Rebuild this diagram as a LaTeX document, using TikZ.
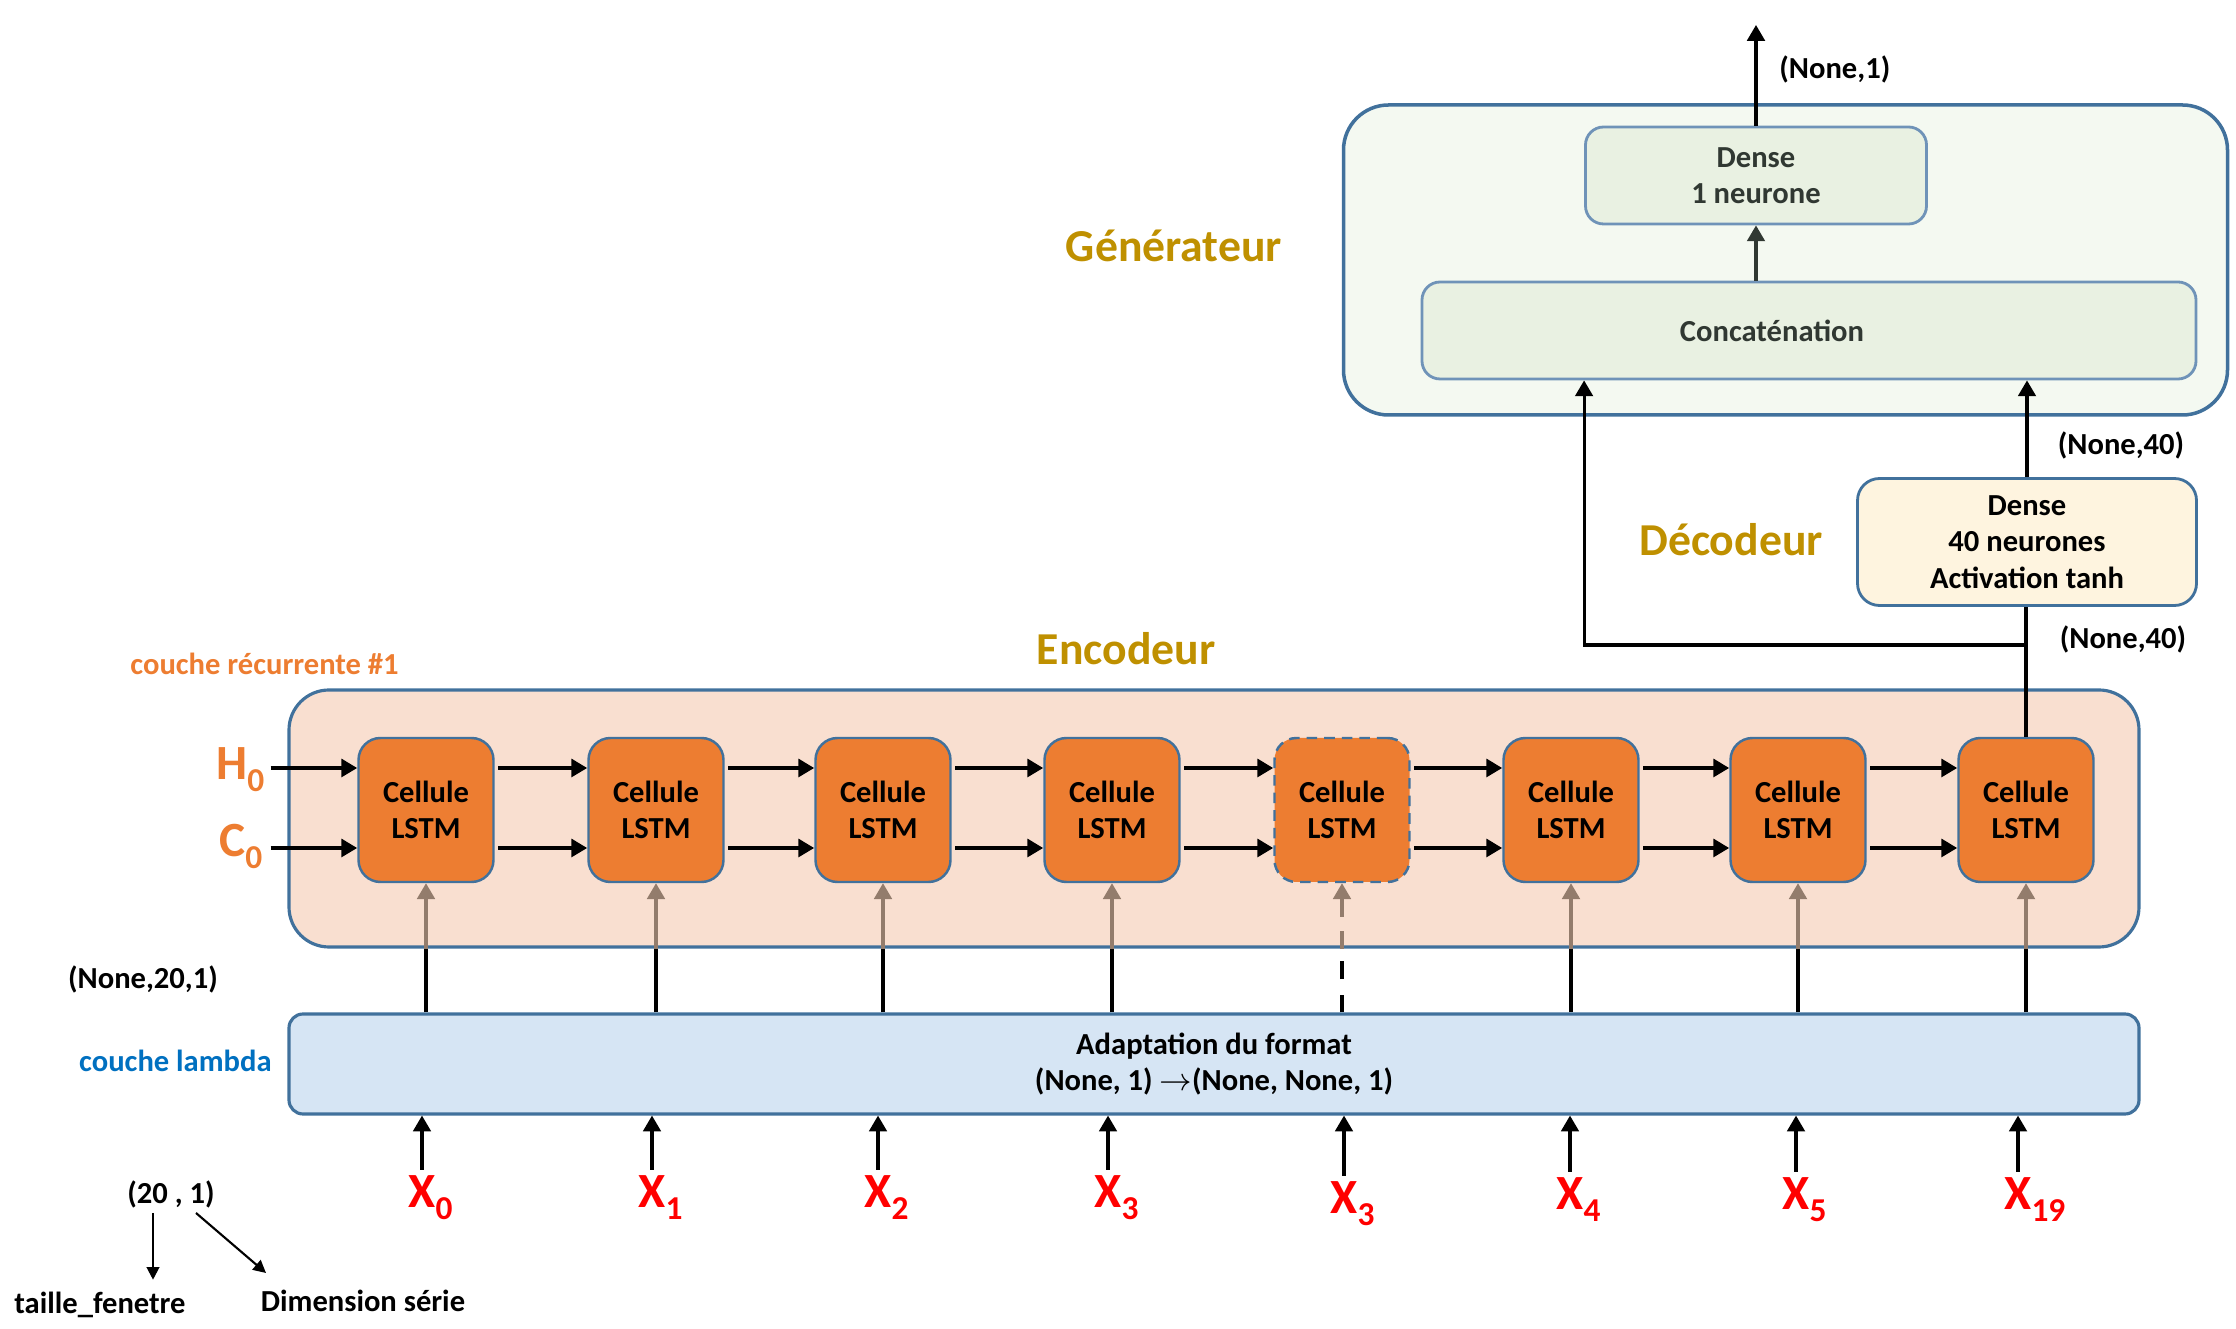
\documentclass[tikz,border=0pt]{standalone}
\usepackage{fontspec}
\setmainfont{Carlito}
\usepackage{xcolor}
\usepackage{tikz}
\usetikzlibrary{arrows.meta}
\usetikzlibrary{shapes}

\definecolor{boxblue}{HTML}{41719C}
\definecolor{paleblue}{HTML}{6F93B8}
\definecolor{gold}{HTML}{BF9000}
\definecolor{lstm}{HTML}{ED7D31}
\definecolor{encfill}{HTML}{F9DFD0}
\definecolor{lamfill}{HTML}{D6E5F4}
\definecolor{genfill}{HTML}{F4F9F1}
\definecolor{densefill}{HTML}{E9F1E2}
\definecolor{decfill}{HTML}{FEF4DF}
\definecolor{brownarr}{HTML}{937C6C}
\definecolor{lambdatxt}{HTML}{0070C0}
\definecolor{darkarr}{HTML}{303832}

\newcommand{\lowidx}[1]{\raisebox{-1.2mm}{\fontsize{9.5}{10}\selectfont #1}}

\tikzset{
  txt/.style={font=\bfseries\fontsize{8.7}{10.4}\selectfont, align=center},
  bigtitle/.style={font=\bfseries\fontsize{13}{15}\selectfont, text=gold},
  lstmcell/.style={draw=boxblue, fill=lstm, line width=0.7pt, rounded corners=0.22cm,
    minimum width=1.35cm, minimum height=1.44cm, txt},
  genlayer/.style={draw=paleblue, fill=densefill, line width=0.8pt, rounded corners=0.18cm,
    text=darkarr, txt},
  xlab/.style={font=\bfseries\fontsize{14}{16}\selectfont, text=red, anchor=north, inner sep=1.5pt},
  hclab/.style={font=\bfseries\fontsize{14}{16}\selectfont, text=lstm, inner sep=0pt, anchor=base east},
  hcarrow/.style={line width=1.1pt, ->, shorten <=1pt},
  feed/.style={line width=0.9pt},
  xarrow/.style={line width=0.9pt, ->},
  brownup/.style={brownarr, line width=0.9pt, ->},
  thinarrow/.style={line width=0.6pt, -{Triangle[length=3.6pt,width=3.6pt]}},
}

\begin{document}
\begin{tikzpicture}[>={Triangle[length=4.5pt,width=5pt]}]
\useasboundingbox (0,0) rectangle (22.36,-13.29);

\node[draw=boxblue, fill=genfill, line width=1pt, rounded corners=0.45cm,
    minimum width=8.84cm, minimum height=3.10cm] at (17.855,-2.60) (gen) {};
\node[genlayer, minimum width=3.41cm, minimum height=0.97cm] at (17.56,-1.755) (dense1) {Dense\\1 neurone};
\node[genlayer, minimum width=7.74cm, minimum height=0.97cm] at (18.09,-3.305) (concat) {Concaténation\hspace*{0.74cm}};
\node[draw=boxblue, fill=decfill, line width=0.8pt, rounded corners=0.22cm,
    minimum width=3.39cm, minimum height=1.27cm, txt] at (20.27,-5.42) (dec) {Dense\\40 neurones\\Activation tanh};

\node[draw=boxblue, fill=encfill, line width=0.9pt, rounded corners=0.4cm,
    minimum width=18.5cm, minimum height=2.57cm] at (12.14,-8.185) (enc) {};
\node[draw=boxblue, fill=lamfill, line width=0.9pt, rounded corners=0.14cm,
    minimum width=18.5cm, minimum height=1.0cm, txt] at (12.14,-10.64) (lam)
    {Adaptation du format\\(None, 1) $\rightarrow$(None, None, 1)};

\node[bigtitle] at (11.74,-2.46) (gentit) {Générateur};
\node[bigtitle] at (17.31,-5.40) (dectit) {Décodeur};
\node[bigtitle] at (11.26,-6.49) (enctit) {Encodeur};
\node[txt, text=lstm, anchor=west] at (1.18,-6.64) (rectit) {couche récurrente \#1};
\node[txt, text=lambdatxt, anchor=east] at (2.84,-10.61) (lamtit) {couche lambda};

\node[lstmcell] at (4.26,-8.10) (c1) {Cellule\\LSTM};
\node[lstmcell] at (6.56,-8.10) (c2) {Cellule\\LSTM};
\node[lstmcell] at (8.83,-8.10) (c3) {Cellule\\LSTM};
\node[lstmcell] at (11.12,-8.10) (c4) {Cellule\\LSTM};
\node[lstmcell, dash pattern=on 3pt off 2pt] at (13.42,-8.10) (c5) {Cellule\\LSTM};
\node[lstmcell] at (15.71,-8.10) (c6) {Cellule\\LSTM};
\node[lstmcell] at (17.98,-8.10) (c7) {Cellule\\LSTM};
\node[lstmcell] at (20.26,-8.10) (c8) {Cellule\\LSTM};

\node[hclab] at (2.65,-7.80) (h0lab) {H\lowidx{0}};
\node[hclab] at (2.63,-8.57) (c0lab) {C\lowidx{0}};
\coordinate (h0) at (2.67,-7.68);
\coordinate (c0) at (2.67,-8.48);

\draw[hcarrow] (h0) -- (h0 -| c1.west);
\draw[hcarrow] (c0) -- (c0 -| c1.west);
\draw[hcarrow] ([yshift=4.2mm]c1.east) -- ([yshift=4.2mm]c2.west);
\draw[hcarrow] ([yshift=-3.8mm]c1.east) -- ([yshift=-3.8mm]c2.west);
\draw[hcarrow] ([yshift=4.2mm]c2.east) -- ([yshift=4.2mm]c3.west);
\draw[hcarrow] ([yshift=-3.8mm]c2.east) -- ([yshift=-3.8mm]c3.west);
\draw[hcarrow] ([yshift=4.2mm]c3.east) -- ([yshift=4.2mm]c4.west);
\draw[hcarrow] ([yshift=-3.8mm]c3.east) -- ([yshift=-3.8mm]c4.west);
\draw[hcarrow] ([yshift=4.2mm]c4.east) -- ([yshift=4.2mm]c5.west);
\draw[hcarrow] ([yshift=-3.8mm]c4.east) -- ([yshift=-3.8mm]c5.west);
\draw[hcarrow] ([yshift=4.2mm]c5.east) -- ([yshift=4.2mm]c6.west);
\draw[hcarrow] ([yshift=-3.8mm]c5.east) -- ([yshift=-3.8mm]c6.west);
\draw[hcarrow] ([yshift=4.2mm]c6.east) -- ([yshift=4.2mm]c7.west);
\draw[hcarrow] ([yshift=-3.8mm]c6.east) -- ([yshift=-3.8mm]c7.west);
\draw[hcarrow] ([yshift=4.2mm]c7.east) -- ([yshift=4.2mm]c8.west);
\draw[hcarrow] ([yshift=-3.8mm]c7.east) -- ([yshift=-3.8mm]c8.west);

\draw[feed] (c1 |- lam.north) -- (c1 |- enc.south);
\draw[feed] (c2 |- lam.north) -- (c2 |- enc.south);
\draw[feed] (c3 |- lam.north) -- (c3 |- enc.south);
\draw[feed] (c4 |- lam.north) -- (c4 |- enc.south);
\draw[feed, dash pattern=on 5pt off 4.5pt] (c5 |- lam.north) -- (c5 |- enc.south);
\draw[feed] (c6 |- lam.north) -- (c6 |- enc.south);
\draw[feed] (c7 |- lam.north) -- (c7 |- enc.south);
\draw[feed] (c8 |- lam.north) -- (c8 |- enc.south);
\draw[brownup] (c1 |- enc.south) -- (c1.south);
\draw[brownup] (c2 |- enc.south) -- (c2.south);
\draw[brownup] (c3 |- enc.south) -- (c3.south);
\draw[brownup] (c4 |- enc.south) -- (c4.south);
\draw[brownup, dash pattern=on 5pt off 4pt] (c5 |- enc.south) -- (c5.south);
\draw[brownup] (c6 |- enc.south) -- (c6.south);
\draw[brownup] (c7 |- enc.south) -- (c7.south);
\draw[brownup] (c8 |- enc.south) -- (c8.south);

\node[xlab] at (4.22,-11.70) (x1) {X\rlap{\lowidx{0}}};
\node[xlab] at (6.52,-11.70) (x2) {X\rlap{\lowidx{1}}};
\node[xlab] at (8.78,-11.70) (x3) {X\rlap{\lowidx{2}}};
\node[xlab] at (11.08,-11.70) (x4) {X\rlap{\lowidx{3}}};
\node[xlab] at (13.44,-11.76) (x5) {X\rlap{\lowidx{3}}};
\node[xlab] at (15.70,-11.72) (x6) {X\rlap{\lowidx{4}}};
\node[xlab] at (17.96,-11.72) (x7) {X\rlap{\lowidx{5}}};
\node[xlab] at (20.18,-11.72) (x8) {X\rlap{\lowidx{19}}};
\draw[xarrow] (x1) -- (x1 |- lam.south);
\draw[xarrow] (x2) -- (x2 |- lam.south);
\draw[xarrow] (x3) -- (x3 |- lam.south);
\draw[xarrow] (x4) -- (x4 |- lam.south);
\draw[xarrow] (x5) -- (x5 |- lam.south);
\draw[xarrow] (x6) -- (x6 |- lam.south);
\draw[xarrow] (x7) -- (x7 |- lam.south);
\draw[xarrow] (x8) -- (x8 |- lam.south);

\coordinate (split) at (20.26,-6.45);
\coordinate (out) at (17.56,-0.25);
\draw[feed] (c8.north) -- (c8.north |- dec.south);
\draw[feed, ->] (split) -| (dense1.west |- concat.south);
\draw[feed, ->] (dec.north) -- (dec.north |- concat.south);
\draw[feed, darkarr, ->] (dense1 |- concat.north) -- (dense1.south);
\draw[feed, ->] (dense1.north) -- (out);

\node[txt, anchor=west] at (17.67,-0.69) (out1) {(None,1)};
\node[txt] at (21.21,-4.45) (n40a) {(None,40)};
\node[txt] at (21.23,-6.39) (n40b) {(None,40)};
\node[txt] at (1.43,-9.79) (shape1) {(None,20,1)};

\node[txt] at (1.71,-11.94) (win) {(20 , 1)};
\node[txt] at (1.00,-13.05) (taille) {taille\_fenetre};
\node[txt] at (3.63,-13.01) (dims) {Dimension série};
\coordinate (w20) at (1.53,-12.13);
\coordinate (w1) at (1.96,-12.13);
\coordinate (wdim) at (2.66,-12.73);
\draw[thinarrow] (w20) -- (w20 |- taille.north);
\draw[thinarrow] (w1) -- (wdim);
\end{tikzpicture}
\end{document}
